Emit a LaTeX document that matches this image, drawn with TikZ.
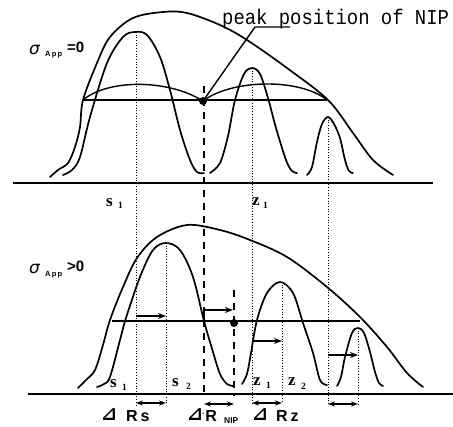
\documentclass[tikz,border=0pt]{standalone}
\usepackage{fontspec}
\setmainfont{Liberation Serif}
\setsansfont{Liberation Sans}
\newfontfamily\monofnt{Liberation Mono}
\newfontfamily\dejafnt{DejaVu Sans}
\usetikzlibrary{arrows.meta}
\tikzset{
  curve/.style={line width=1.7pt, line join=round, line cap=round},
  base/.style={line width=1.4pt},
  hline/.style={line width=1.2pt},
  dotv/.style={line width=0.7pt, dotted},
  dashv/.style={line width=2.6pt, dash pattern=on 7pt off 6pt},
  arr/.style={line width=1.3pt, -{Stealth[length=8pt,width=6pt]}},
  darr/.style={line width=1.3pt, {Stealth[length=7pt,width=5pt]}-{Stealth[length=7pt,width=5pt]}},
  lab/.style={inner sep=0pt, anchor=base west},
  sig/.style={lab, font=\dejafnt\itshape\fontsize{17}{17}\selectfont},
  sub/.style={lab, font=\sffamily\bfseries\fontsize{7.5}{8}\selectfont},
  rel/.style={lab, font=\sffamily\bfseries\fontsize{15}{15}\selectfont},
  pk/.style={lab, font=\rmfamily\bfseries\fontsize{17}{17}\selectfont},
  pkn/.style={lab, font=\rmfamily\bfseries\fontsize{9.5}{10}\selectfont},
  tri/.style={lab, font=\dejafnt\bfseries\fontsize{19}{19}\selectfont},
  big/.style={lab, font=\sffamily\bfseries\fontsize{16}{16}\selectfont},
  bsub/.style={lab, font=\sffamily\bfseries\fontsize{8.5}{9}\selectfont},
}
\begin{document}
\begin{tikzpicture}[x=1pt,y=-1pt]
\useasboundingbox (0,0) rectangle (453,427);

% ---------- baselines ----------
\coordinate (tb0) at (13,183); \coordinate (tb1) at (433,183);
\coordinate (bb0) at (28,394); \coordinate (bb1) at (453,394);
\draw[base] (tb0) -- (tb1);
\draw[base] (bb0) -- (bb1);

% ---------- dotted verticals ----------
\draw[dotv] (136,32) -- (136,405);
\draw[dotv] (252,68) -- (252,405);
\draw[dotv] (328,117) -- (328,405);
\draw[dotv] (166,243) -- (166,405);
\draw[dotv] (282,282) -- (282,403);
\draw[dotv] (358,328) -- (358,405);

% ---------- dashed verticals ----------
\draw[dashv] (204,86) -- (204,396);
\draw[dashv] (234,290) -- (234,396);

% ---------- top panel ----------
\draw[curve] plot[smooth,tension=0.55] coordinates {(50,177) (58,170) (68,163) (75,147) (80,127) (83,100) (97,63) (110,37) (133,18) (163,12) (187,13) (220,25) (247,40) (287,68) (328,100) (353,133) (373,160) (393,175)};
\draw[curve] plot[smooth,tension=0.55] coordinates {(63,175) (72,170) (80,157) (90,117) (107,63) (123,37) (135,32) (147,35) (160,57) (170,90) (180,130) (190,160) (197,172) (204,173)};
\draw[curve] plot[smooth,tension=0.55] coordinates {(210,173) (220,163) (228,136) (235,100) (244,74) (252,68) (260,74) (268,98) (276,128) (286,160) (292,171) (297,173)};
\draw[curve] plot[smooth,tension=0.55] coordinates {(307,175) (312,167) (317,142) (322,124) (328,117) (334,124) (340,138) (345,160) (349,171) (353,173)};
\coordinate (ta) at (83,100); \coordinate (tc) at (327,100);
\node[circle, fill, inner sep=0pt, minimum size=8pt] (tdot) at (203,101) {};
\draw[hline] (ta) -- (tc);
\draw[line width=1.4pt] (ta) .. controls (108,79) and (168,79) .. (tdot.center) .. controls (232,79) and (300,78) .. (tc);

% leader and label
\coordinate (lk) at (255,27); \coordinate (lu) at (290,27);
\draw[line width=1.4pt] (tdot.center) -- (lk) -- (lu);
\node[lab] (peak) at (222,25) {\monofnt\fontsize{18.9}{19}\selectfont\scalebox{1}[1.12]{peak position of NIP}};

% sigma label top
\node[sig] (s0a) at (29,55) {σ};
\node[sub] (s0b) at (45,57) {A\,p\,p};
\node[rel] (s0c) at (67,53) {=0};

% top peak labels
\node[pk] (ts) at (106,207) {s};
\node[pkn] (ts1) at (118,209) {1};
\node[pk] (tz) at (252,206) {z};
\node[pkn] (tz1) at (263,209) {1};

% ---------- bottom panel ----------
\draw[curve] plot[smooth,tension=0.55] coordinates {(78,388) (86,380) (95,370) (103,345) (110,320) (123,287) (137,258) (157,237) (187,225) (220,230) (250,240) (287,257) (327,287) (360,317) (387,347) (407,373) (423,387)};
\draw[curve] plot[smooth,tension=0.55] coordinates {(97,387) (104,384) (110,377) (120,340) (126,318) (140,277) (153,250) (166,243) (180,250) (193,277) (204,321) (213,352) (220,374) (227,384) (233,386)};
\draw[curve] plot[smooth,tension=0.55] coordinates {(242,384) (247,374) (251,353) (257,320) (267,293) (280,282) (293,293) (303,323) (313,353) (320,380) (327,385)};
\draw[curve] plot[smooth,tension=0.55] coordinates {(337,386) (341,377) (345,357) (352,333) (358,328) (364,333) (370,352) (375,372) (379,383) (383,386)};

\coordinate (ba) at (112,321); \coordinate (bc) at (360,321);
\draw[hline] (ba) -- (bc);
\node[circle, fill, inner sep=0pt, minimum size=8pt] (bdot) at (234,323) {};

% shift arrows
\coordinate (as0) at (136,316); \coordinate (as1) at (166,316);
\draw[arr] (as0) -- (as1);
\coordinate (an0) at (204,321); \coordinate (an1) at (233,310);
\draw[arr] (an0) |- (an1);
\coordinate (az0) at (252,341); \coordinate (az1) at (282,341);
\draw[arr] (az0) -- (az1);
\coordinate (ay0) at (328,355); \coordinate (ay1) at (358,355);
\draw[arr] (ay0) -- (ay1);

% double arrows
\coordinate (ds0) at (136,403); \coordinate (ds1) at (166,403);
\draw[darr] (ds0) -- (ds1);
\coordinate (dn0) at (204,404); \coordinate (dn1) at (234,404);
\draw[darr] (dn0) -- (dn1);
\coordinate (dz0) at (252,403); \coordinate (dz1) at (282,403);
\draw[darr] (dz0) -- (dz1);
\coordinate (dy0) at (328,404); \coordinate (dy1) at (358,404);
\draw[darr] (dy0) -- (dy1);

% sigma label bottom
\node[sig] (s1a) at (29,274) {σ};
\node[sub] (s1b) at (45,277) {A\,p\,p};
\node[rel] (s1c) at (67,272) {>0};

% bottom peak labels
\node[pk] (bs) at (110,388) {s};
\node[pkn] (bs1) at (122,391) {1};
\node[pk] (bs2a) at (172,387) {s};
\node[pkn] (bs2b) at (186,390) {2};
\node[pk] (bz) at (253,386) {z};
\node[pkn] (bz1) at (266,389) {1};
\node[pk] (bz2a) at (288,386) {z};
\node[pkn] (bz2b) at (301,390) {2};

% delta labels
\node[tri] (dRs0) at (101,421) {⊿};
\node[big] (dRs1) at (126,422) {R\hspace{3pt}s};
\node[tri] (dRn0) at (187,421) {⊿};
\node[big] (dRn1) at (202,422) {\raisebox{7pt}{\fontsize{8}{8}\selectfont.}\hspace{1pt}R};
\node[bsub] (dRn2) at (224,424) {NIP};
\node[tri] (dRz0) at (252,421) {⊿};
\node[big] (dRz1) at (276,422) {R\hspace{3pt}z};
\end{tikzpicture}
\end{document}
